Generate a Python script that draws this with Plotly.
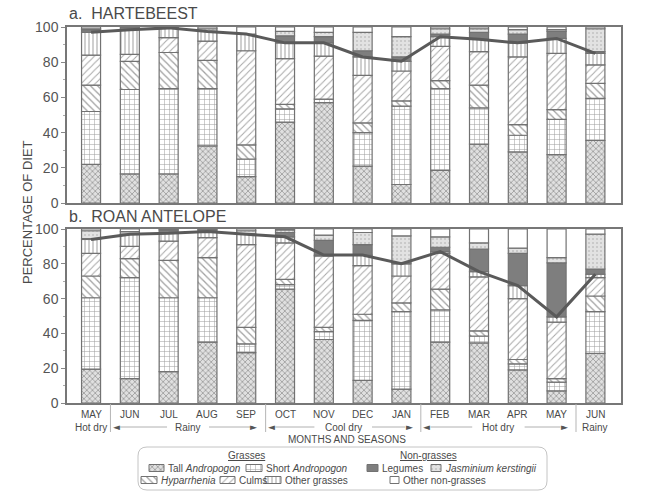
import numpy as np
import plotly.graph_objects as go

# ---------------- data ----------------
months = ["MAY", "JUN", "JUL", "AUG", "SEP", "OCT", "NOV", "DEC", "JAN", "FEB", "MAR", "APR", "MAY", "JUN"]
categories = ["Tall Andropogon", "Short Andropogon", "Hyparrhenia", "Culms", "Other grasses",
              "Legumes", "Jasminium kerstingii", "Other non-grasses"]
n_grass = 5

# a. Hartebeest (percentage of diet)
h_tall = [22, 16.5, 16.5, 32.5, 15, 46, 57, 21, 10.5, 18.5, 33.5, 29, 27.5, 35.5]
h_short = [30, 48, 48.5, 32.5, 10, 7.5, 2, 19, 44.5, 46.5, 20.5, 9.5, 20, 24]
h_hyp = [15, 16, 20.5, 16, 8, 2.5, 0, 5.5, 3, 4.5, 13, 6, 5.5, 8.5]
h_culms = [17, 4, 8.5, 11, 53.5, 26, 24.5, 27, 17, 19.5, 19, 38.5, 32, 10.5]
h_other_grass = [13, 14, 5.5, 5.5, 9.5, 9, 7.5, 10.5, 5.5, 5.5, 7, 8, 8.5, 6.5]
h_legumes = [1.5, 1.5, 0.5, 0, 0, 4, 3.5, 3.5, 2.5, 1.5, 4, 5, 4, 1]
h_jasminium = [0.5, 0, 0, 1.5, 0, 2.5, 2.5, 10.5, 11.5, 3, 2, 2.5, 1, 13]
h_other_non = [1, 0, 0, 1, 4, 2.5, 3, 3, 5.5, 1, 1, 1.5, 1.5, 1]

# b. Roan antelope
r_tall = [19.5, 14, 18, 35, 29, 65.5, 36.5, 13, 8, 35, 34.5, 19, 7, 28.5]
r_short = [41, 58, 42.5, 25.5, 5, 2.5, 4.5, 34.5, 44.5, 18.5, 4, 3.5, 5, 24]
r_hyp = [12.5, 11, 21.5, 23, 9.5, 3, 2.5, 3.5, 5, 12, 3, 2.5, 2, 9]
r_culms = [13, 7, 11, 11.5, 47.5, 21, 41, 28, 15.5, 20.5, 31, 35, 32.5, 10.5]
r_other_grass = [8, 7, 4.5, 3.5, 6, 3.5, 0.5, 6, 7, 1, 3, 7.5, 3, 2]
r_legumes = [0.5, 0, 2, 1, 0, 2.5, 8.5, 6, 0.5, 2.5, 13, 18.5, 31, 3]
r_jasminium = [4.5, 1.5, 0, 0, 2, 1.5, 3, 7, 15.5, 6, 3.5, 3, 3, 20]
r_other_non = [1, 1.5, 0.5, 0.5, 1, 0.5, 3.5, 2, 4, 4.5, 8, 11, 16.5, 3]

hartebeest = [h_tall, h_short, h_hyp, h_culms, h_other_grass, h_legumes, h_jasminium, h_other_non]
roan = [r_tall, r_short, r_hyp, r_culms, r_other_grass, r_legumes, r_jasminium, r_other_non]

seasons = [("Hot dry", 0, 0), ("Rainy", 1, 4), ("Cool dry", 5, 8), ("Hot dry", 9, 12), ("Rainy", 13, 13)]
y_ticks = [0, 20, 40, 60, 80, 100]

# ---------------- layout helpers ----------------
W, H = 650, 493
def fx(p): return p / W
def fy(p): return 1 - p / H

LEFT, RIGHT = 67, 621
TOP_A, BOT_A = 27, 203
TOP_B, BOT_B = 229, 403
XR = [-0.62, 13.66]
TXT = "#4a4a4a"
FONT = "Liberation Sans, Arial, sans-serif"

styles = {
    "Tall Andropogon": dict(color="#e0e0e0", shape="x", fg="#8a8a8a", size=4, sol=0.3),
    "Short Andropogon": dict(color="#ffffff", shape="+", fg="#a0a0a0", size=5, sol=0.2),
    "Hyparrhenia": dict(color="#ffffff", shape="\\", fg="#a0a0a0", size=5, sol=0.25),
    "Culms": dict(color="#ffffff", shape="/", fg="#a8a8a8", size=5, sol=0.2),
    "Other grasses": dict(color="#ffffff", shape="|", fg="#a0a0a0", size=4, sol=0.25),
    "Legumes": dict(color="#7e7e7e", shape=""),
    "Jasminium kerstingii": dict(color="#e2e2e2", shape=".", fg="#c2c2c2", size=4, sol=0.2),
    "Other non-grasses": dict(color="#ffffff", shape=""),
}

def marker_for(cat, lw=1.2):
    s = styles[cat]
    m = dict(color=s["color"], line=dict(color="#727272", width=lw))
    if s["shape"]:
        m["pattern"] = dict(shape=s["shape"], fgcolor=s["fg"], bgcolor=s["color"],
                            size=s["size"], solidity=s["sol"], fillmode="replace")
    return m

def note(text, x, y, xref="paper", size=10, xanchor="center", **kw):
    return dict(text=text, x=x, y=y, xref=xref, yref="paper", xanchor=xanchor, yanchor="middle",
                showarrow=False, font=dict(size=size, color=kw.pop("color", TXT),
                                           family=kw.pop("family", FONT)), **kw)

fig = go.Figure()
xs = list(range(len(months)))

for data, xa, ya in [(hartebeest, "x", "y"), (roan, "x2", "y2")]:
    base = np.zeros(len(months))
    for cat, vals in zip(categories, data):
        v = np.array(vals, dtype=float)
        fig.add_trace(go.Bar(x=xs, y=v, base=base.copy(), width=0.49, xaxis=xa, yaxis=ya,
                             marker=marker_for(cat), showlegend=False, name=cat))
        base += v
    grass_total = np.sum(np.array(data[:n_grass], dtype=float), axis=0)
    fig.add_trace(go.Scatter(x=xs, y=grass_total, mode="lines", xaxis=xa, yaxis=ya,
                             line=dict(color="#5a5a5a", width=3), showlegend=False))

# ---------------- legend swatches (pixel axis) ----------------
LEG_X0, LEG_X1, LEG_Y0, LEG_Y1 = 138, 547, 447, 490
ROW1, ROW2, HEAD = 468, 480, 455
legend_items = [
    ("Tall Andropogon", "Tall <i>Andropogon</i>", 149, 164, ROW1),
    ("Short Andropogon", "Short <i>Andropogon</i>", 246, 262, ROW1),
    ("Legumes", "Legumes", 367, 378, ROW1),
    ("Jasminium kerstingii", "<i>Jasminium kerstingii</i>", 431, 441, ROW1),
    ("Hyparrhenia", "<i>Hyparrhenia</i>", 141, 157, ROW2),
    ("Culms", "Culms", 220, 235, ROW2),
    ("Other grasses", "Other grasses", 265, 281, ROW2),
    ("Other non-grasses", "Other non-grasses", 390, 399, ROW2),
]
annotations = []
for cat, label, x0, x1, yc in legend_items:
    fig.add_trace(go.Bar(orientation="h", y=[yc], x=[x1 - x0], base=[x0], width=7,
                         xaxis="x3", yaxis="y3", marker=marker_for(cat, 1), showlegend=False,
                         hoverinfo="skip"))
    annotations.append(note(label, fx(x1 + 2), fy(yc), xanchor="left"))
annotations.append(note("<u>Grasses</u>", fx(246), fy(HEAD)))
annotations.append(note("<u>Non-grasses</u>", fx(428), fy(HEAD)))

# rounded legend box
r = 9
bx0, bx1, by0, by1 = LEG_X0, LEG_X1, LEG_Y0, LEG_Y1
pts = (f"M {fx(bx0 + r)},{fy(by0)} L {fx(bx1 - r)},{fy(by0)} Q {fx(bx1)},{fy(by0)} {fx(bx1)},{fy(by0 + r)} "
       f"L {fx(bx1)},{fy(by1 - r)} Q {fx(bx1)},{fy(by1)} {fx(bx1 - r)},{fy(by1)} "
       f"L {fx(bx0 + r)},{fy(by1)} Q {fx(bx0)},{fy(by1)} {fx(bx0)},{fy(by1 - r)} "
       f"L {fx(bx0)},{fy(by0 + r)} Q {fx(bx0)},{fy(by0)} {fx(bx0 + r)},{fy(by0)} Z")
shapes = [dict(type="path", path=pts, xref="paper", yref="paper",
               line=dict(color="#c4c4c4", width=1))]

# ---------------- titles ----------------
annotations += [
    note("a.  HARTEBEEST", fx(67), fy(14), size=16, xanchor="left"),
    note("b.  ROAN ANTELOPE", fx(67), fy(216), size=16, xanchor="left"),
    note("PERCENTAGE OF DIET", fx(27), fy(212), size=13, textangle=-90),
    note("MONTHS AND SEASONS", fx((LEFT + RIGHT) / 2 + 3), fy(439)),
]

# ---------------- months and seasons rows ----------------
MONTH_Y = 414
SEASON_Y = 427
for i, m in zip(xs, months):
    annotations.append(note(m, i, fy(MONTH_Y), xref="x2"))
unit = (RIGHT - LEFT) / (XR[1] - XR[0])
for name, s0, s1 in seasons:
    mid = (s0 + s1) / 2
    annotations.append(note(name, mid, fy(SEASON_Y), xref="x2"))
    if s1 > s0:
        a0, a1 = s0 - 0.35, s1 + 0.2
        half = (len(name) * 5.2 / 2 + 8) / unit
        for xa_, xb_ in [(a0 + 0.1, mid - half), (mid + half, a1 - 0.1)]:
            shapes.append(dict(type="line", x0=xa_, x1=xb_, y0=fy(SEASON_Y), y1=fy(SEASON_Y),
                               xref="x2", yref="paper", line=dict(color="#b0b0b0", width=1)))
        annotations.append(note("◄", a0, fy(SEASON_Y), xref="x2", size=9, color="#555555",
                                family="DejaVu Sans"))
        annotations.append(note("►", a1, fy(SEASON_Y), xref="x2", size=9, color="#555555",
                                family="DejaVu Sans"))
    if s0 > 0:
        shapes.append(dict(type="line", x0=s0 - 0.5, x1=s0 - 0.5, y0=fy(404), y1=fy(432),
                           xref="x2", yref="paper", line=dict(color="#b5b5b5", width=1)))

axis_common = dict(showline=True, mirror=True, linecolor="#777777", linewidth=1.5,
                   showgrid=False, zeroline=False, automargin=False)
yaxis_common = dict(axis_common, range=[0, 100], tickvals=y_ticks, ticks="outside", ticklen=4,
                    tickcolor="#888888", tickfont=dict(size=14, color="#555555", family=FONT),
                    minor=dict(ticks="outside", ticklen=2, dtick=10, tickcolor="#aaaaaa"))

fig.update_layout(
    width=W, height=H, autosize=False,
    margin=dict(l=0, r=0, t=0, b=0, pad=0, autoexpand=False),
    paper_bgcolor="white", plot_bgcolor="rgba(0,0,0,0)",
    barmode="overlay", showlegend=False,
    xaxis=dict(axis_common, domain=[fx(LEFT), fx(RIGHT)], range=XR, anchor="y",
               showticklabels=False, ticks=""),
    yaxis=dict(yaxis_common, domain=[fy(BOT_A), fy(TOP_A)], anchor="x"),
    xaxis2=dict(axis_common, domain=[fx(LEFT), fx(RIGHT)], range=XR, anchor="y2",
                showticklabels=False, ticks=""),
    yaxis2=dict(yaxis_common, domain=[fy(BOT_B), fy(TOP_B)], anchor="x2"),
    xaxis3=dict(domain=[fx(LEG_X0), fx(LEG_X1)], range=[LEG_X0, LEG_X1], visible=False,
                anchor="y3", automargin=False),
    yaxis3=dict(domain=[fy(LEG_Y1), fy(LEG_Y0)], range=[LEG_Y1, LEG_Y0], visible=False,
                anchor="x3", automargin=False),
    annotations=annotations, shapes=shapes,
)

fig.write_html("out.html")
